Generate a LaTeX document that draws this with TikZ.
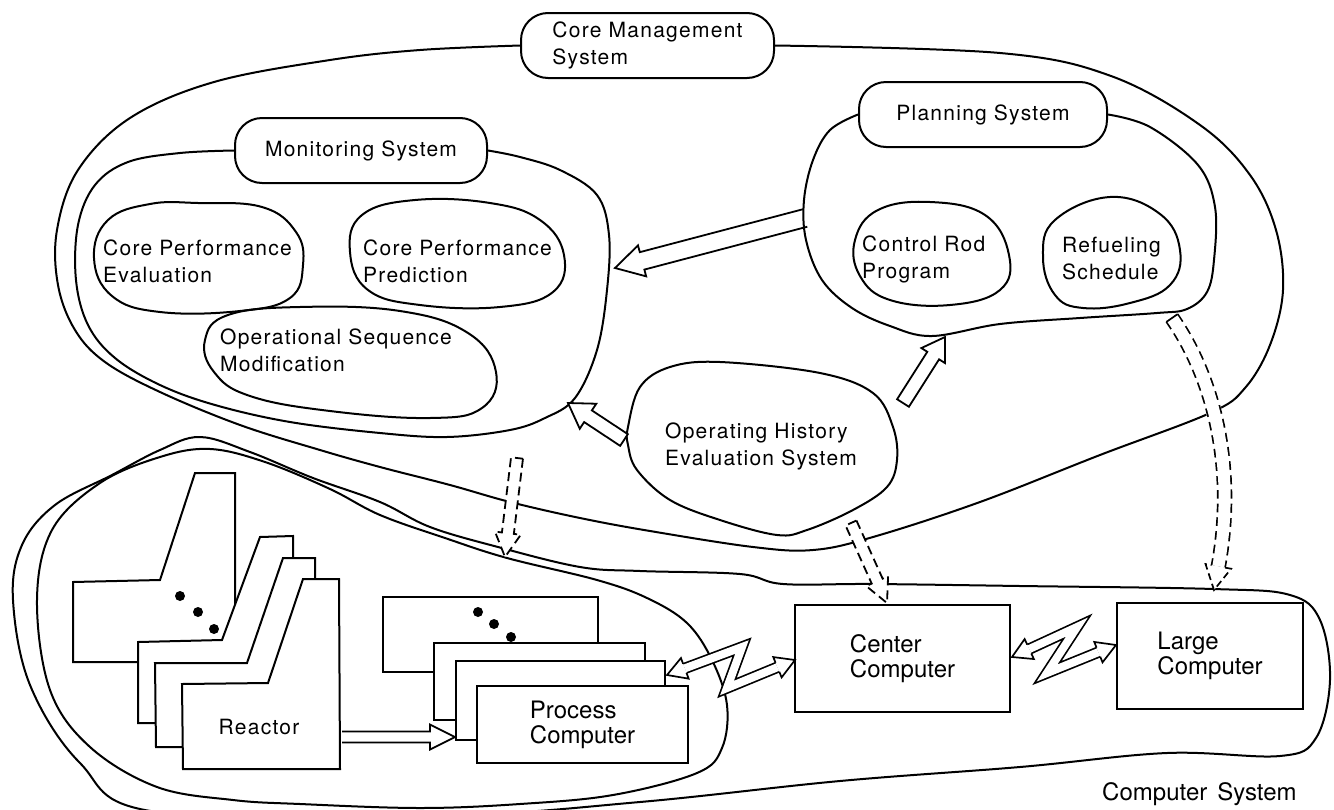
\documentclass[tikz,border=0pt]{standalone}
\usepackage{fontspec}
\setmainfont{TeX Gyre Heros}
\newfontfamily\leroy[LetterSpace=6]{TeX Gyre Heros}
\usetikzlibrary{calc}

\tikzset{
  outline/.style={draw, line width=2pt, line join=round},
  slab/.style={draw, fill=white, line width=2pt, line join=miter},
  labelbox/.style={draw, fill=white, line width=2pt, rounded corners=27pt, minimum height=65pt,
    inner sep=0pt, align=left, font=\leroy\fontsize{21}{27}\selectfont},
  blobtext/.style={inner sep=0pt, anchor=west, align=left, font=\leroy\fontsize{21}{27}\selectfont},
  compbox/.style={draw, fill=white, line width=2pt, inner sep=0pt, align=left,
    font=\fontsize{24}{25}\selectfont},
  hollow/.style={draw, fill=white, line width=1.8pt, line join=miter},
  dashedge/.style={dash pattern=on 9pt off 5pt},
}

% hollow straight arrow: [options]{tail}{tip}{shaft half width}{head length}{head half width}
\newcommand\closedarrow[6][]{%
  \coordinate (hb) at ($(#3)!#5!(#2)$);
  \path[hollow,#1] ($(#2)!#4!90:(#3)$) -- ($(hb)!#4!90:(#3)$) -- ($(hb)!#6!90:(#3)$) -- (#3)
     -- ($(hb)!#6!-90:(#3)$) -- ($(hb)!#4!-90:(#3)$) -- ($(#2)!#4!-90:(#3)$) -- cycle;}
\newcommand\openarrow[6][]{%
  \coordinate (hb) at ($(#3)!#5!(#2)$);
  \path[hollow,#1] ($(#2)!#4!90:(#3)$) -- ($(hb)!#4!90:(#3)$) -- ($(hb)!#6!90:(#3)$) -- (#3)
     -- ($(hb)!#6!-90:(#3)$) -- ($(hb)!#4!-90:(#3)$) -- ($(#2)!#4!-90:(#3)$);}

% head of a lightning link: {tip}{base}
\newcommand\bolthead[2]{%
  \fill[white] ($(#2)!11pt!90:(#1)$) -- (#1) -- ($(#2)!11pt!-90:(#1)$) -- cycle;
  \draw[line width=1.7pt, line join=miter] ($(#2)!4.85pt!90:(#1)$) -- ($(#2)!11pt!90:(#1)$) -- (#1)
     -- ($(#2)!11pt!-90:(#1)$) -- ($(#2)!4.85pt!-90:(#1)$);}
% lightning link: {left tip}{peak}{valley}{right tip}
\newcommand\linkbolt[4]{%
  \coordinate (zl) at ($(#1)!19pt!(#2)$);
  \coordinate (zr) at ($(#4)!19pt!(#3)$);
  \draw[line width=1.7pt, double, double distance=8pt, line join=miter] (zl) -- (#2) -- (#3) -- (zr);
  \bolthead{#1}{zl}\bolthead{#4}{zr}}

\begin{document}
\begin{tikzpicture}[x=1pt,y=-1pt]
\useasboundingbox (0,0) rectangle (1334,809);
\clip (0,0) rectangle (1334,809);
\fill[white] (0,0) rectangle (1334,809);

% ---------- label boxes ----------
\node[labelbox, minimum width=253pt] (cms) at (647.5,45.5) {Core Management\\System};
\node[labelbox, minimum width=248pt] (pls) at (983,114.5) {Planning System};
\node[labelbox, minimum width=252pt] (mns) at (361,150.5) {Monitoring System};

% ---------- arrow from planning to monitoring (tail on the planning outline) ----------
\coordinate (pmT) at (805,218);
\coordinate (pmH) at (615,268);
\openarrow{pmT}{pmH}{9pt}{28pt}{16pt}

% ---------- core management system outline ----------
\draw[outline] plot[smooth, tension=0.6] coordinates {(cms.west) (420,50) (330,60) (214,82) (130,118)
  (78,170) (57,230) (58,285) (75,330) (105,362) (160,392) (240,425) (320,450) (380,467) (450,485)
  (510,502) (580,518) (650,531) (753,547) (813,550) (873,537) (980,502) (1100,455) (1210,413)
  (1245,388) (1270,345) (1283,290) (1276,230) (1250,175) (1200,125) (1111,76) (1000,53) (cms.east)};

% ---------- monitoring system outline ----------
\draw[outline] plot[smooth, tension=0.6] coordinates {(mns.west) (180,153) (128,162) (95,185) (78,225)
  (76,280) (88,325) (115,358) (160,385) (215,405) (290,422) (380,433) (447,437) (510,430) (545,418)
  (575,398) (597,350) (607,290) (609,235) (597,195) (560,170) (520,157) (mns.east)};

% ---------- planning system outline ----------
\draw[outline] plot[smooth, tension=0.6] coordinates {(pls.west) (830,130) (813,160) (804,200)
  (806,240) (822,280) (852,308) (890,326) (932,336) (1000,324) (1080,318) (1157,313) (1187,309)
  (1207,292) (1214,260) (1215,207) (1198,165) (1150,127) (pls.east)};

% ---------- computer system outline ----------
\draw[outline] plot[smooth cycle, tension=0.6] coordinates {(13,600) (22,545) (55,505) (112,475)
  (160,450) (200,437) (250,452) (313,478) (380,502) (430,527) (498,547) (580,567) (640,571)
  (740,574) (783,584) (873,584) (1020,586) (1213,589) (1290,595) (1320,620) (1330,680) (1316,738)
  (1280,756) (1167,753) (1020,767) (840,781) (640,802) (450,815) (157,812) (80,763) (30,685)};

% ---------- plant outline (reactors and process computers) ----------
\draw[outline] plot[smooth cycle, tension=0.6] coordinates {(37,600) (52,530) (100,483) (160,457)
  (210,449) (265,462) (330,489) (380,515) (445,538) (507,558) (597,580) (647,598) (687,623)
  (712,660) (727,705) (722,748) (697,773) (613,795) (520,804) (420,808) (300,804) (233,800)
  (157,787) (90,747) (50,690)};

% ---------- inner blobs ----------
\draw[outline] plot[smooth cycle, tension=0.7] coordinates {(198,203) (262,207) (296,232) (303,265)
  (290,298) (240,311) (160,312) (112,296) (94,258) (108,220) (150,204)};
\draw[outline] plot[smooth cycle, tension=0.7] coordinates {(350,252) (362,215) (415,200) (490,203)
  (540,220) (564,255) (553,292) (500,307) (420,305) (368,290)};
\draw[outline] plot[smooth cycle, tension=0.7] coordinates {(205,340) (228,315) (300,307) (400,311)
  (468,333) (496,372) (482,408) (430,418) (330,411) (250,396) (214,372)};
\draw[outline] plot[smooth cycle, tension=0.7] coordinates {(930,202) (985,215) (1009,255) (1000,290)
  (950,305) (890,300) (860,276) (855,240) (878,210)};
\draw[outline] plot[smooth cycle, tension=0.7] coordinates {(1110,197) (1160,214) (1180,250)
  (1170,285) (1130,303) (1083,308) (1055,295) (1043,257) (1055,220)};
\draw[outline] plot[smooth cycle, tension=0.6] coordinates {(628,427) (640,387) (670,367) (720,362)
  (820,373) (873,393) (893,427) (897,460) (887,487) (853,510) (807,530) (777,535) (720,520)
  (670,500) (637,470) (628,445)};

% ---------- texts of the blobs ----------
\node[blobtext] (cpe) at (103,261.5) {Core Performance\\Evaluation};
\node[blobtext] (cpp) at (363,261.5) {Core Performance\\Prediction};
\node[blobtext] (osm) at (220,350) {Operational Sequence\\Modification};
\node[blobtext] (crp) at (862,259) {Control Rod\\Program};
\node[blobtext] (rfs) at (1062,258.5) {Refueling\\Schedule};
\node[blobtext] (ohe) at (665,446) {Operating History\\Evaluation System};

% ---------- reactors ----------
\path[slab] (73,662) -- (73,582) -- (160,580) -- (195,473) -- (235,473) -- (235,662) -- cycle;
\fill (180,596) circle (5pt) (198,612) circle (5pt) (214,629) circle (5pt);
\path[slab] (138,723) -- (138,642) -- (222,640) -- (260,537) -- (293,536) -- (294,723) -- cycle;
\path[slab] (156,747) -- (155,663) -- (247,663) -- (283,558) -- (315,558) -- (315,747) -- cycle;
\path[slab] (183,769) -- (182,684) -- (268,683) -- (303,579) -- (339,579) -- (340,769) -- cycle;
\node[blobtext, anchor=center] (rea) at (259,727) {Reactor};

% ---------- process computers ----------
\path[slab] (383,597) rectangle (598,672);
\fill (478,612) circle (5pt) (494,624) circle (5pt) (511,637) circle (5pt);
\path[slab] (434,643) rectangle (645,720);
\path[slab] (456,661) rectangle (665,740);
\node[compbox, minimum width=211pt, minimum height=77pt] (pc) at (582.5,724.5) {Process\\Computer};

% ---------- computers ----------
\node[compbox, minimum width=215pt, minimum height=107pt] (cc) at (902.5,658.5) {Center\\Computer};
\node[compbox, minimum width=186pt, minimum height=106pt] (lc) at (1210,656) {Large\\Computer};
\node[inner sep=0pt, anchor=west, font=\fontsize{24}{25}\selectfont] (cst) at (1102,794)
  {Computer\hspace{10pt}System};

% ---------- solid hollow arrows ----------
\coordinate (rpT) at (342,737);
\coordinate (rpH) at (455,737);
\openarrow{rpT}{rpH}{5.5pt}{25pt}{12.5pt}
\coordinate (opT) at (903,403);
\coordinate (opH) at (945,337);
\closedarrow{opT}{opH}{7pt}{22pt}{14pt}
\coordinate (omT) at (624,440);
\coordinate (omH) at (568,403);
\closedarrow{omT}{omH}{7pt}{24pt}{15pt}

% ---------- dashed hollow arrows ----------
\coordinate (mdT) at (517,458);
\coordinate (mdH) at (505,557);
\closedarrow[dashedge]{mdT}{mdH}{6pt}{24pt}{13pt}
\coordinate (odT) at (851,523);
\coordinate (odH) at (887,603);
\closedarrow[dashedge]{odT}{odH}{6pt}{24pt}{12pt}

% curved dashed arrow from the refueling schedule down to the computer system
\coordinate (rsT) at (1172,318);
\coordinate (rsA) at (1215,380);
\coordinate (rsB) at (1236,470);
\coordinate (rsH) at (1214,590);
\coordinate (rsE) at ($(rsH)!24pt!(rsB)$);
\draw[white, line width=16pt] (rsT) .. controls (rsA) and (rsB) .. (rsE);
\draw[line width=1.7pt, double, double distance=12pt] (rsT) .. controls (rsA) and (rsB) .. (rsE);
\draw[white, line width=18pt, dash pattern=on 5pt off 9pt, dash phase=-9pt]
  (rsT) .. controls (rsA) and (rsB) .. (rsE);
\draw[line width=1.7pt] ($(rsT)!6.85pt!90:(rsA)$) -- ($(rsT)!6.85pt!-90:(rsA)$);
\fill[white] ($(rsE)!13pt!90:(rsH)$) -- (rsH) -- ($(rsE)!13pt!-90:(rsH)$) -- cycle;
\draw[line width=1.7pt, line join=miter, dash pattern=on 7pt off 4pt]
  ($(rsE)!6.85pt!90:(rsH)$) -- ($(rsE)!13pt!90:(rsH)$) -- (rsH) -- ($(rsE)!13pt!-90:(rsH)$) -- ($(rsE)!6.85pt!-90:(rsH)$);

% ---------- lightning links ----------
\coordinate (b1L) at (667,675);
\coordinate (b1P) at (742,647);
\coordinate (b1V) at (727,688);
\coordinate (b1R) at (795,660);
\linkbolt{b1L}{b1P}{b1V}{b1R}
\coordinate (b2L) at (1012,657);
\coordinate (b2P) at (1077,627);
\coordinate (b2V) at (1047,673);
\coordinate (b2R) at (1116,645);
\linkbolt{b2L}{b2P}{b2V}{b2R}
\end{tikzpicture}
\end{document}
